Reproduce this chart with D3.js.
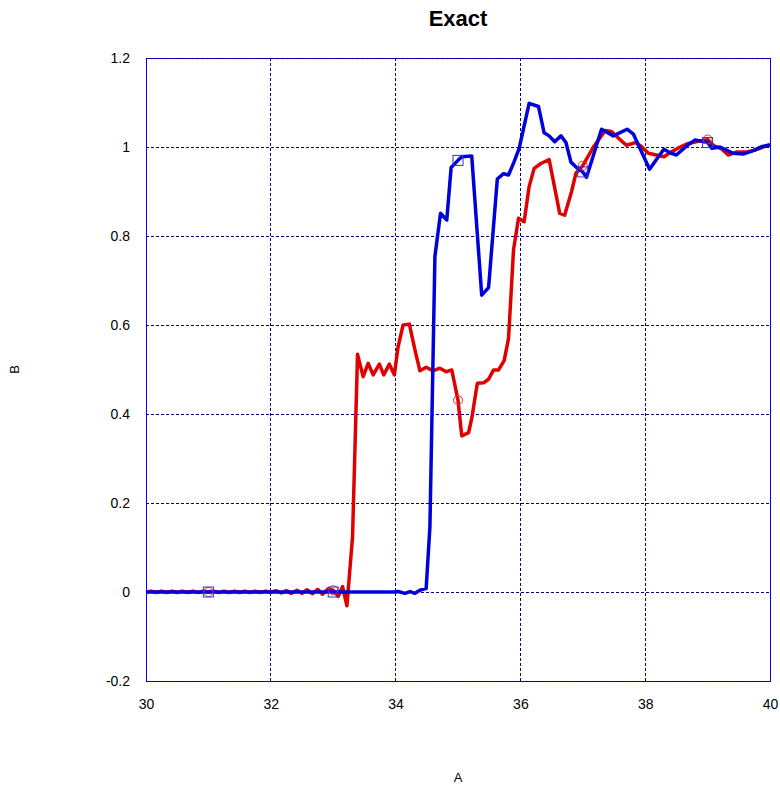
<!DOCTYPE html>
<html>
<head>
<meta charset="utf-8">
<script src="https://cdn.jsdelivr.net/npm/d3@7"></script>
<style>
  body { margin: 0; background: #fff; }
  svg { font-family: "Liberation Sans", Arial, sans-serif; }
</style>
</head>
<body>
<svg id="chart" width="780" height="785"></svg>
<script>
'use strict';

// axis ticks
var xTicks = [30, 32, 34, 36, 38, 40];
var yTicks = [-0.2, 0, 0.2, 0.4, 0.6, 0.8, 1, 1.2];

// red series
var redX = [30, 30.08, 30.17, 30.25, 30.33, 30.42, 30.5, 30.58, 30.67, 30.75, 30.83, 30.92,
  31, 31.08, 31.17, 31.25, 31.33, 31.42, 31.5, 31.58, 31.67, 31.75, 31.83, 31.92,
  32, 32.08, 32.17, 32.25, 32.33, 32.42, 32.5, 32.58, 32.67, 32.75, 32.83, 32.92,
  33, 33.08, 33.15, 33.22, 33.31, 33.39, 33.48, 33.56, 33.64, 33.74, 33.81, 33.9, 33.98,
  34.04, 34.12, 34.22, 34.31, 34.39, 34.49, 34.6, 34.71, 34.81, 34.9, 35, 35.06, 35.17,
  35.22, 35.31, 35.41, 35.49, 35.57, 35.65, 35.74, 35.81, 35.89, 35.97, 36.06, 36.14,
  36.22, 36.33, 36.46, 36.63, 36.71, 36.82, 36.89, 37, 37.17, 37.36, 37.46, 37.57, 37.7,
  37.84, 37.94, 38.05, 38.18, 38.3, 38.42, 38.56, 38.69, 38.83, 39, 39.09, 39.23, 39.33,
  39.47, 39.63, 39.76, 39.89, 40];
var redY = [0, 0.002, -0.001, 0.002, -0.001, 0.002, -0.001, 0.002, -0.001, 0.002, -0.001, 0.002,
  0, 0.002, -0.001, 0.002, -0.001, 0.002, -0.001, 0.002, -0.001, 0.002, -0.001, 0.002,
  -0.001, 0.003, -0.002, 0.003, -0.003, 0.004, -0.003, 0.005, -0.004, 0.006, -0.005, 0.007,
  0.004, -0.01, 0.012, -0.031, 0.124, 0.534, 0.484, 0.514, 0.488, 0.512, 0.488, 0.512, 0.488,
  0.551, 0.6, 0.602, 0.544, 0.497, 0.505, 0.497, 0.503, 0.495, 0.499, 0.431, 0.351, 0.358,
  0.39, 0.469, 0.47, 0.478, 0.499, 0.499, 0.52, 0.57, 0.769, 0.84, 0.832, 0.911,
  0.952, 0.963, 0.972, 0.851, 0.847, 0.9, 0.941, 0.958, 1.0, 1.037, 1.035, 1.02, 1.004,
  1.01, 1.001, 0.986, 0.982, 0.978, 0.989, 1.0, 1.008, 1.012, 1.017, 1.004, 0.995, 0.982,
  0.989, 0.989, 0.993, 1.0, 1.006];

// blue series
var blueX = [30, 31, 32, 33, 34, 34.04, 34.15, 34.23, 34.31, 34.39, 34.49, 34.55, 34.63, 34.72,
  34.82, 34.89, 35, 35.06, 35.22, 35.38, 35.49, 35.63, 35.73, 35.81, 35.9, 35.98, 36.14,
  36.29, 36.38, 36.46, 36.55, 36.65, 36.73, 36.81, 36.9, 37, 37.06, 37.3, 37.49, 37.71,
  37.81, 38.07, 38.18, 38.3, 38.4, 38.5, 38.66, 38.8, 39, 39.07, 39.2, 39.41, 39.57,
  39.73, 39.87, 40];
var blueY = [0, 0, 0, 0, 0, 0.001, -0.003, 0.001, -0.003, 0.004, 0.008, 0.147, 0.754, 0.851,
  0.836, 0.954, 0.97, 0.978, 0.98, 0.667, 0.684, 0.928, 0.94, 0.937, 0.967, 0.997, 1.098,
  1.091, 1.032, 1.025, 1.012, 1.025, 1.01, 0.966, 0.954, 0.944, 0.932, 1.04, 1.025, 1.04,
  1.029, 0.95, 0.972, 0.995, 0.987, 0.982, 1.002, 1.016, 1.01, 0.997, 1.0, 0.986, 0.984,
  0.992, 1.001, 1.004];

// marker points
var markerX = [31, 33, 35, 37, 39];
var redMarkerY = [0, 0.004, 0.431, 0.958, 1.017];
var blueMarkerY = [0, 0, 0.97, 0.944, 1.01];

var svg = d3.select('#chart');
var margin = { left: 146, right: 10, top: 58, bottom: 104 };
var width = 780 - margin.left - margin.right;
var height = 785 - margin.top - margin.bottom;

var x = d3.scaleLinear().domain([30, 40]).range([margin.left, margin.left + width]);
var y = d3.scaleLinear().domain([-0.2, 1.2]).range([margin.top + height, margin.top]);

// frame
svg.append('rect')
  .attr('x', x(30)).attr('y', y(1.2))
  .attr('width', x(40) - x(30)).attr('height', y(-0.2) - y(1.2))
  .attr('fill', 'none').attr('stroke', '#0000ff').attr('stroke-width', 1)
  .attr('shape-rendering', 'crispEdges');

// grid
var grid = svg.append('g').attr('stroke', '#000080').attr('stroke-width', 1)
  .attr('stroke-dasharray', '3,2').attr('shape-rendering', 'crispEdges');
grid.selectAll('line.v').data(xTicks.slice(1, -1)).enter().append('line')
  .attr('x1', function(d) { return x(d); }).attr('x2', function(d) { return x(d); })
  .attr('y1', y(1.2)).attr('y2', y(-0.2));
grid.selectAll('line.h').data(yTicks).enter().append('line')
  .attr('y1', function(d) { return y(d); }).attr('y2', function(d) { return y(d); })
  .attr('x1', x(30)).attr('x2', x(40));

// axes (labels only)
var xAxis = d3.axisBottom(x).tickValues(xTicks).tickSize(0).tickPadding(18)
  .tickFormat(d3.format('d'));
svg.append('g').attr('transform', 'translate(0,' + y(-0.2) + ')').call(xAxis)
  .call(function(g) { g.select('.domain').remove(); });

// plain hyphen for negatives, as in the original
var yAxis = d3.axisLeft(y).tickValues(yTicks).tickSize(0).tickPadding(16)
  .tickFormat(function(d) { return String(+d.toFixed(1)); });
svg.append('g').attr('transform', 'translate(' + x(30) + ',0)').call(yAxis)
  .call(function(g) { g.select('.domain').remove(); });

svg.selectAll('.tick text').attr('font-size', 14).attr('fill', '#000')
  .attr('font-family', '"Liberation Sans", Arial, sans-serif');

// lines
var line = d3.line()
  .x(function(d) { return x(d[0]); })
  .y(function(d) { return y(d[1]); });

var redData = d3.zip(redX, redY);
var blueData = d3.zip(blueX, blueY);

svg.append('path').datum(redData).attr('d', line)
  .attr('fill', 'none').attr('stroke', '#e00000').attr('stroke-width', 3.5)
  .attr('stroke-linejoin', 'round');
svg.append('path').datum(blueData).attr('d', line)
  .attr('fill', 'none').attr('stroke', '#0000dd').attr('stroke-width', 3.5)
  .attr('stroke-linejoin', 'round');

// markers
svg.selectAll('circle.m').data(d3.zip(markerX, redMarkerY)).enter().append('circle')
  .attr('cx', function(d) { return x(d[0]); })
  .attr('cy', function(d) { return y(d[1]); })
  .attr('r', 4.5)
  .attr('fill', 'none').attr('stroke', '#e03030').attr('stroke-width', 1);
svg.selectAll('rect.m').data(d3.zip(markerX, blueMarkerY)).enter().append('rect')
  .attr('x', function(d) { return x(d[0]) - 5; })
  .attr('y', function(d) { return y(d[1]) - 5; })
  .attr('width', 10).attr('height', 10)
  .attr('fill', 'none').attr('stroke', '#3030e0').attr('stroke-width', 1);

// titles
svg.append('text').attr('x', x(35)).attr('y', 26).attr('text-anchor', 'middle')
  .attr('font-size', 22).attr('font-weight', 'bold').text('Exact');
svg.append('text').attr('x', x(35)).attr('y', 782).attr('text-anchor', 'middle')
  .attr('font-size', 13).text('A');
svg.append('text').attr('transform', 'translate(19,' + y(0.5) + ') rotate(-90)')
  .attr('text-anchor', 'middle').attr('font-size', 13).text('B');
</script>
</body>
</html>
